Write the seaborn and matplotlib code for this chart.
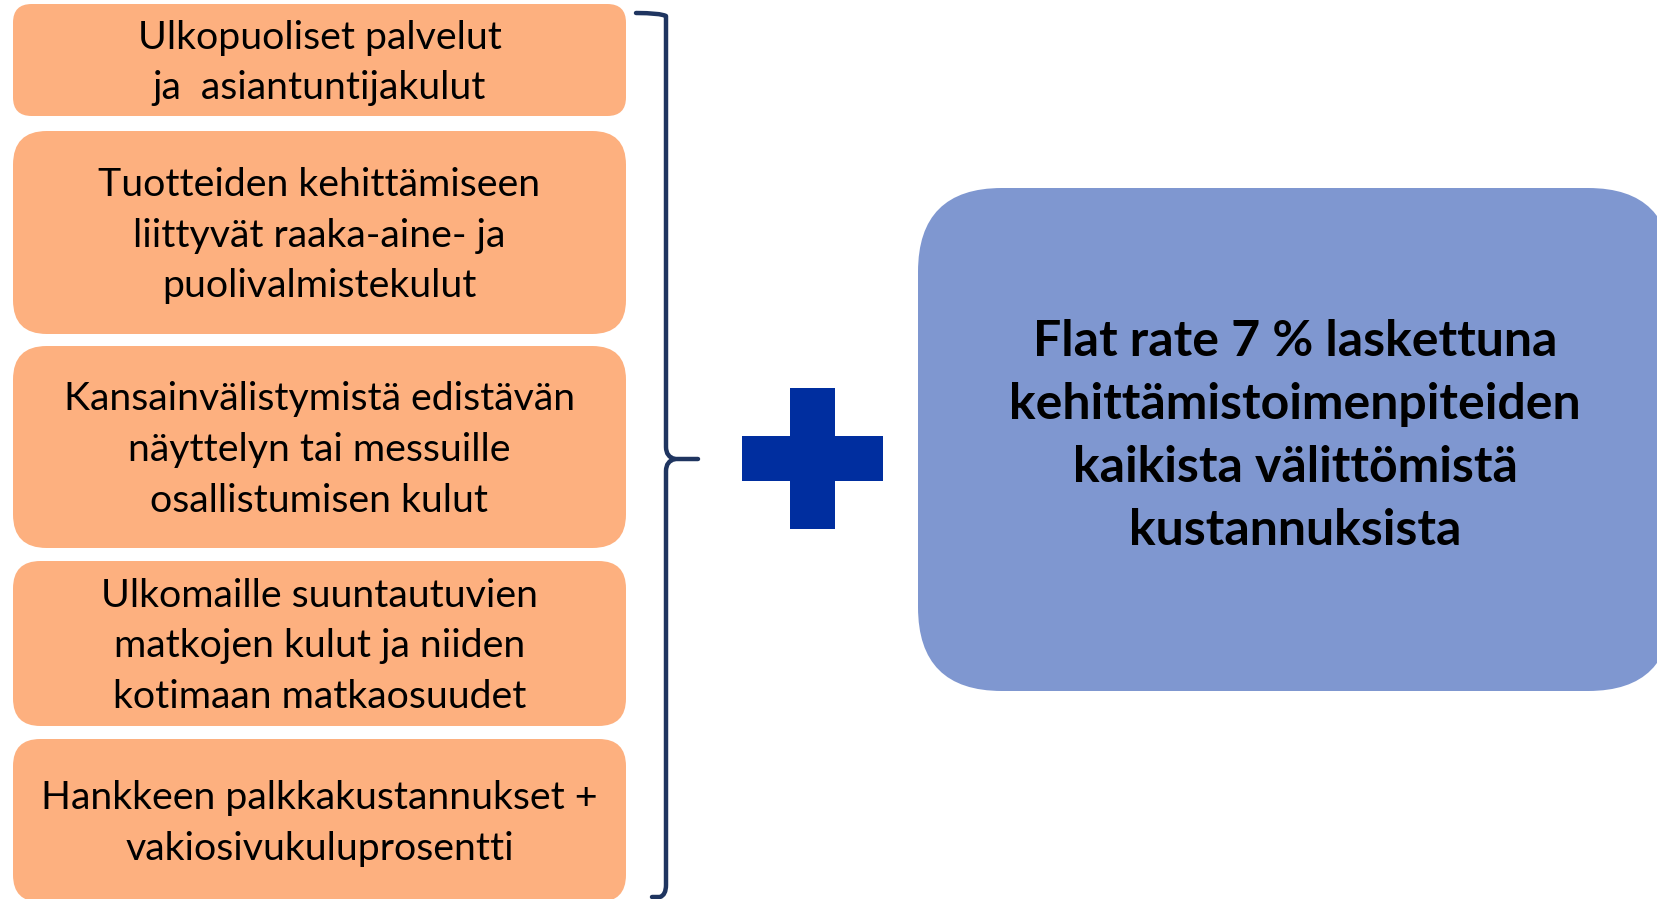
"""
Flat rate diagram: five cost categories bracketed together, plus a 7 % flat rate box.
"""

import matplotlib
matplotlib.use('Agg')
import matplotlib.pyplot as plt
from matplotlib.patches import FancyBboxPatch, Polygon, PathPatch
from matplotlib.path import Path
import seaborn as sns

# ─── DATA ────────────────────────────────────────────
cost_items = [
    'Ulkopuoliset palvelut\nja  asiantuntijakulut',
    'Tuotteiden kehittämiseen\nliittyvät raaka-aine- ja\npuolivalmistekulut',
    'Kansainvälistymistä edistävän\nnäyttelyn tai messuille\nosallistumisen kulut',
    'Ulkomaille suuntautuvien\nmatkojen kulut ja niiden\nkotimaan matkaosuudet',
    'Hankkeen palkkakustannukset +\nvakiosivukuluprosentti',
]
flat_rate_text = ('Flat rate 7 % laskettuna\nkehittämistoimenpiteiden\n'
                  'kaikista välittömistä\nkustannuksista')

# ─── LAYOUT (pixels, y grows downward) ───────────────
W, H = 1657, 899
box_x0, box_x1 = 13, 626
box_rows = [(4, 116), (131, 334), (346, 548), (561, 726), (739, 902)]
right_box = (918, 188, 1672, 691)
brace_x, brace_mid, brace_tip = 666, 459, 698
plus_c, plus_len, plus_w = (812, 458), 141, 45

ORANGE = '#FDB07F'
BLUE_BOX = '#7F97D0'
PLUS_BLUE = '#002E9F'
BRACE = '#1F3560'

# ─── STYLE ───────────────────────────────────────────
sns.set_theme(style='white')
plt.rcParams['font.family'] = ['Lato', 'DejaVu Sans']

fig = plt.figure(figsize=(W / 100, H / 100), dpi=100)
ax = fig.add_axes([0, 0, 1, 1])
ax.set_xlim(0, W)
ax.set_ylim(H, 0)
ax.axis('off')


def rounded_box(x0, y0, x1, y1, color):
    r = min(x1 - x0, y1 - y0) / 6
    ax.add_patch(FancyBboxPatch((x0, y0), x1 - x0, y1 - y0,
                                boxstyle=f'round,pad=0,rounding_size={r}',
                                facecolor=color, edgecolor='none'))


# Left cost boxes
for label, (y0, y1) in zip(cost_items, box_rows):
    rounded_box(box_x0, y0, box_x1, y1, ORANGE)
    ax.text((box_x0 + box_x1) / 2, (y0 + y1) / 2 + 3, label,
            ha='center', va='center', fontsize=28.3, linespacing=1.51,
            color='black')

# Brace
verts = [(636, 13), (660, 13), (brace_x, 16), (brace_x, 28),
         (brace_x, brace_mid - 12), (brace_x, brace_mid - 2), (675, brace_mid), (brace_tip, brace_mid),
         (675, brace_mid), (brace_x, brace_mid + 2), (brace_x, brace_mid + 12),
         (brace_x, 885), (brace_x, 895), (660, 897), (652, 897)]
codes = [Path.MOVETO, Path.CURVE3, Path.CURVE3, Path.LINETO,
         Path.LINETO, Path.CURVE3, Path.CURVE3, Path.LINETO,
         Path.MOVETO, Path.CURVE3, Path.CURVE3,
         Path.LINETO, Path.CURVE3, Path.CURVE3, Path.LINETO]
ax.add_patch(PathPatch(Path(verts, codes), facecolor='none', edgecolor=BRACE,
                       linewidth=3.2, capstyle='round', joinstyle='round'))

# Plus sign
cx, cy = plus_c
a, b = plus_len / 2, plus_w / 2
plus_pts = [(cx - b, cy - a), (cx + b, cy - a), (cx + b, cy - b), (cx + a, cy - b),
            (cx + a, cy + b), (cx + b, cy + b), (cx + b, cy + a), (cx - b, cy + a),
            (cx - b, cy + b), (cx - a, cy + b), (cx - a, cy - b), (cx - b, cy - b)]
ax.add_patch(Polygon(plus_pts, closed=True, facecolor=PLUS_BLUE, edgecolor='none'))

# Right flat rate box
rx0, ry0, rx1, ry1 = right_box
rounded_box(rx0, ry0, rx1, ry1, BLUE_BOX)
ax.text(1295, 436, flat_rate_text, ha='center', va='center',
        fontsize=36, fontweight='bold', linespacing=1.49, color='black')

fig.savefig('out.png', dpi=100)
